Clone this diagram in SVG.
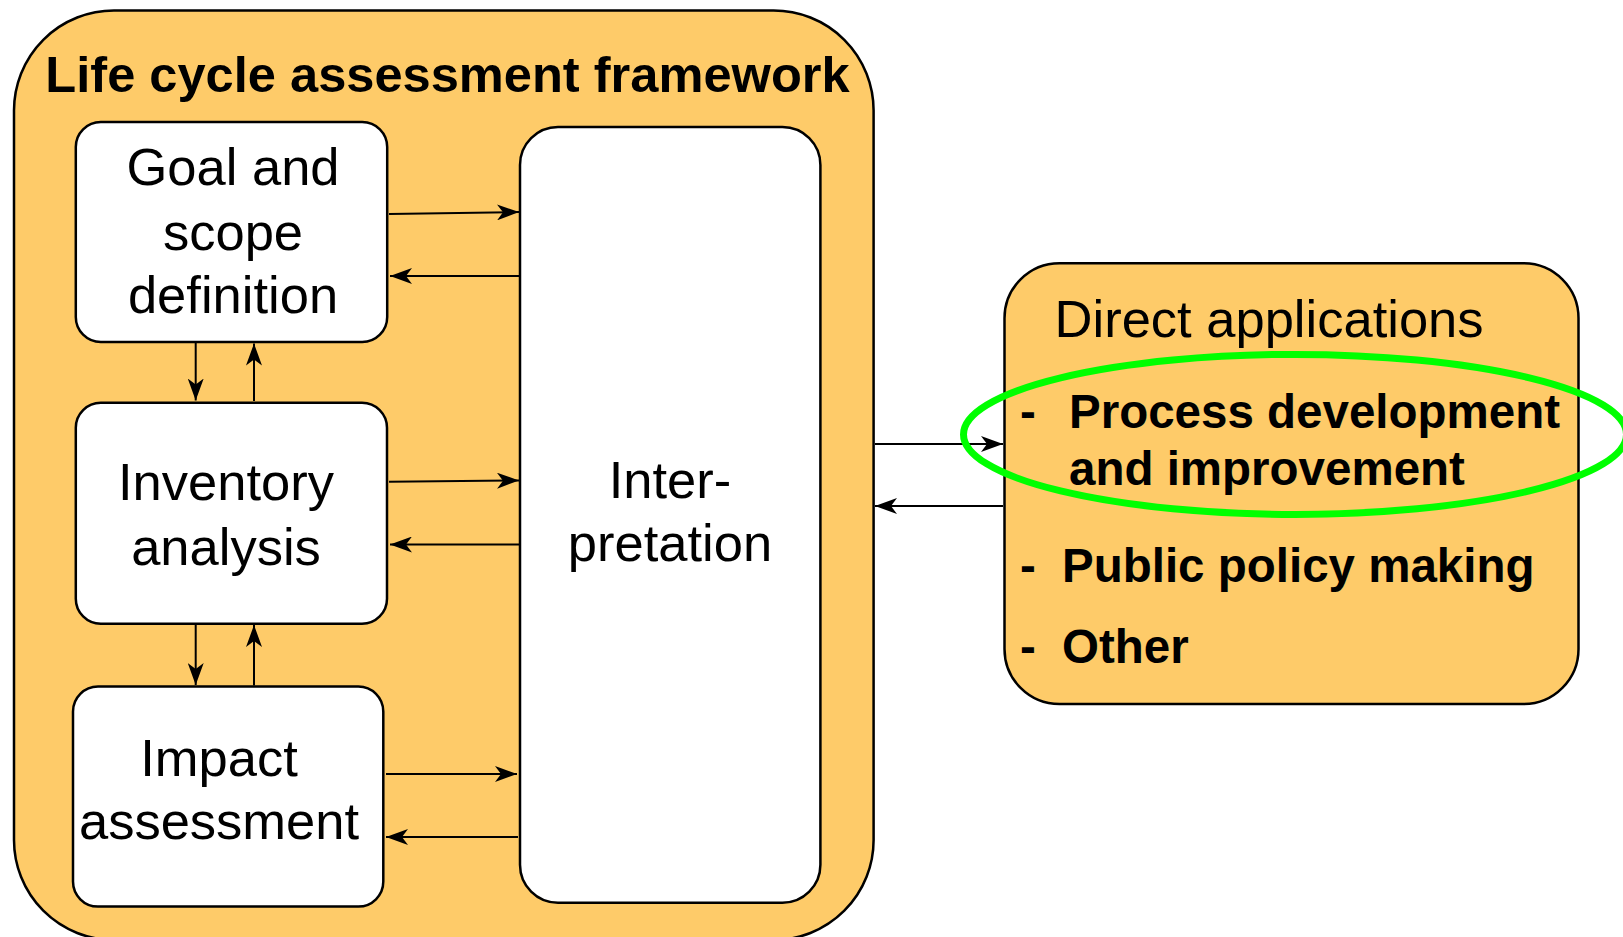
<svg xmlns="http://www.w3.org/2000/svg" width="1623" height="937" viewBox="0 0 1623 937">
<style>
.frame{fill:#FECB69;stroke:#000;stroke-width:2.5}
.box{fill:#fff;stroke:#000;stroke-width:2.5}
.t{font-family:"Liberation Sans",Arial,sans-serif;font-size:52.5px;fill:#000;text-anchor:middle}
.b{font-family:"Liberation Sans",Arial,sans-serif;font-size:47.5px;font-weight:bold;fill:#000}
.c{stroke:#000;stroke-width:2;fill:none;marker-end:url(#ah)}
</style>
<defs>
<marker id="ah" viewBox="0 0 22 16" refX="22" refY="8" markerWidth="22" markerHeight="16" markerUnits="userSpaceOnUse" orient="auto">
<path d="M0,0 L22,8 L0,16 L6,8 Z" fill="#000"/>
</marker>
</defs>
<rect width="1623" height="937" fill="#fff"/>
<g id="framework">
<rect class="frame" x="14" y="10.5" width="859.6" height="929.5" rx="100" ry="100"/>
<text x="447.5" y="92" font-family="'Liberation Sans',Arial,sans-serif" font-size="50.6" font-weight="bold" text-anchor="middle">Life cycle assessment framework</text>
</g>
<g id="goal">
<rect class="box" x="75.8" y="122" width="311.4" height="220" rx="25" ry="25"/>
<text class="t" x="233" y="185">Goal and</text>
<text class="t" x="233" y="250">scope</text>
<text class="t" x="233" y="313">definition</text>
</g>
<g id="inventory">
<rect class="box" x="75.8" y="402.8" width="311.2" height="220.9" rx="25" ry="25"/>
<text class="t" x="226" y="500">Inventory</text>
<text class="t" x="226" y="564.7">analysis</text>
</g>
<g id="impact">
<rect class="box" x="73" y="686.5" width="310.3" height="220.1" rx="25" ry="25"/>
<text class="t" x="219" y="776">Impact</text>
<text class="t" x="219" y="839">assessment</text>
</g>
<g id="interpretation">
<rect class="box" x="520" y="127" width="300.4" height="775.8" rx="38" ry="38"/>
<text class="t" x="670" y="498">Inter-</text>
<text class="t" x="670" y="561">pretation</text>
</g>
<g id="applications">
<rect class="frame" x="1004.5" y="263.3" width="574" height="440.7" rx="55" ry="55"/>
<text class="t" x="1054.6" y="337.3" text-anchor="start" style="text-anchor:start">Direct applications</text>
<text class="b" x="1020" y="428">-</text>
<text class="b" x="1069" y="428">Process development</text>
<text class="b" x="1069" y="485">and improvement</text>
<text class="b" x="1020" y="581.7">-</text>
<text class="b" x="1062" y="581.7">Public policy making</text>
<text class="b" x="1020" y="663">-</text>
<text class="b" x="1062" y="663">Other</text>
</g>
<g id="connectors">
<line class="c" x1="389" y1="214" x2="519" y2="212"/>
<line class="c" x1="519" y1="276" x2="390" y2="276"/>
<line class="c" x1="389" y1="481.7" x2="519" y2="480.5"/>
<line class="c" x1="519" y1="544.5" x2="390" y2="544.5"/>
<line class="c" x1="386" y1="774" x2="517" y2="774"/>
<line class="c" x1="518" y1="837" x2="386" y2="837"/>
<line class="c" x1="195.7" y1="343" x2="195.7" y2="400.5"/>
<line class="c" x1="254" y1="401" x2="254" y2="343.5"/>
<line class="c" x1="195.7" y1="625" x2="195.7" y2="685"/>
<line class="c" x1="254" y1="685.5" x2="254" y2="625"/>
<line class="c" x1="875" y1="444" x2="1003" y2="444"/>
<line class="c" x1="1003" y1="506" x2="875" y2="506"/>
</g>
<ellipse id="highlight" cx="1295" cy="434.4" rx="331.5" ry="80" fill="none" stroke="#00FF00" stroke-width="7"/>
</svg>
